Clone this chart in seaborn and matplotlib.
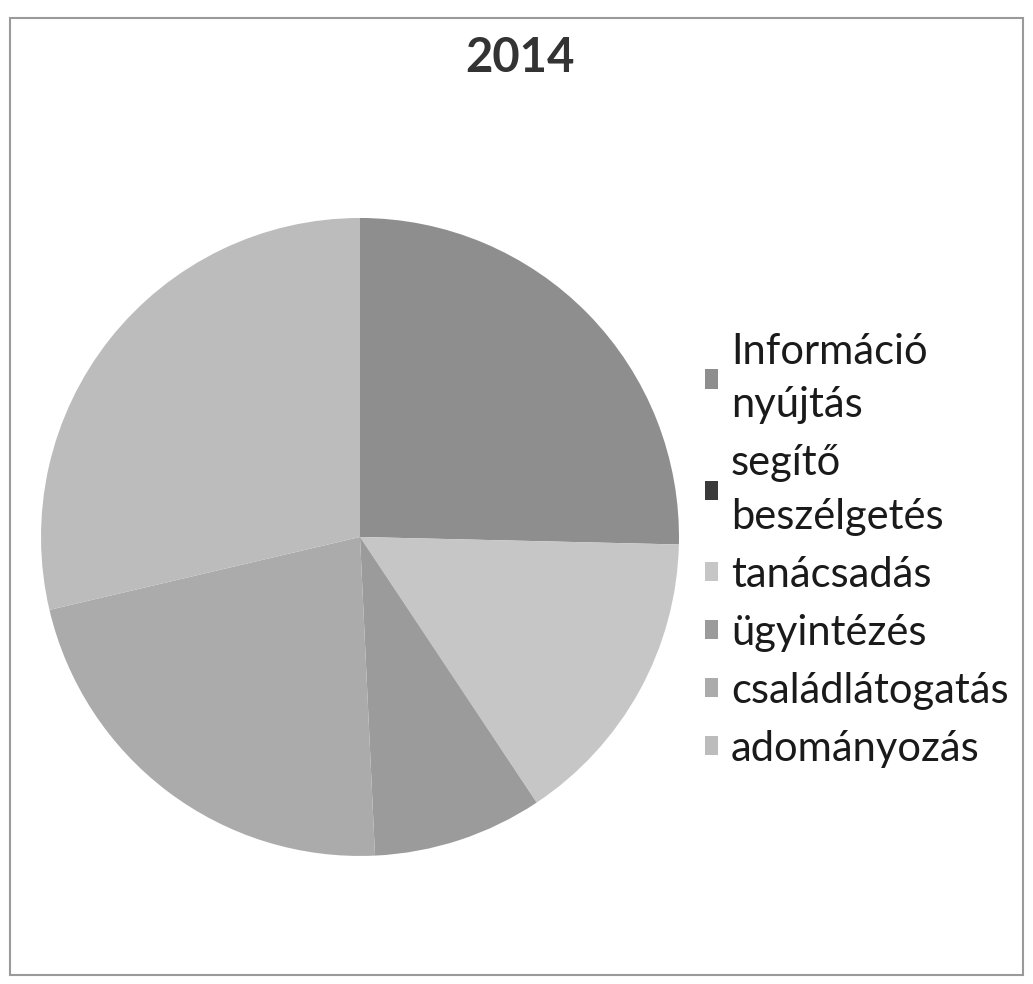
import matplotlib
matplotlib.use("Agg")
import matplotlib.pyplot as plt
import seaborn as sns
from matplotlib.patches import Rectangle

categories = ["Információ\nnyújtás", "segítő\nbeszélgetés", "tanácsadás",
              "ügyintézés", "családlátogatás", "adományozás"]
values = [25.4, 0.0, 15.3, 8.6, 22.1, 28.7]
colors = ["#8e8e8e", "#3a3a3a", "#c6c6c6", "#9b9b9b", "#ababab", "#bcbcbc"]
title = "2014"

sns.set_theme(style="white")
plt.rcParams['font.family'] = ['Lato', 'DejaVu Sans']

fig = plt.figure(figsize=(10.33, 9.84), dpi=100)
ax = fig.add_axes([0.0397, 0.1301, 0.6176, 0.6484])
wedges, _ = ax.pie(values, colors=colors, startangle=90, counterclock=False,
                   radius=1.0, wedgeprops=dict(linewidth=0))
ax.set_xlim(-1, 1)
ax.set_ylim(-1, 1)
ax.set_aspect('equal')
ax.axis('off')

fig.text(0.503, 0.963, title, ha='center', va='top', fontsize=34,
         fontweight='bold', color='#333333')

leg = fig.legend(wedges, categories, loc='upper left',
                 bbox_to_anchor=(0.662, 0.683), frameon=False,
                 fontsize=30, handlelength=0.33, handleheight=0.33,
                 handletextpad=0.3, labelspacing=0.48, borderpad=0)
for t in leg.get_texts():
    t.set_color('#1a1a1a')
    t.set_linespacing(1.5)

fig.patches.append(Rectangle((0.01, 0.009), 0.98, 0.973, transform=fig.transFigure,
                             fill=False, edgecolor='#9a9a9a', linewidth=1.5))

fig.savefig("out.png", dpi=100)
